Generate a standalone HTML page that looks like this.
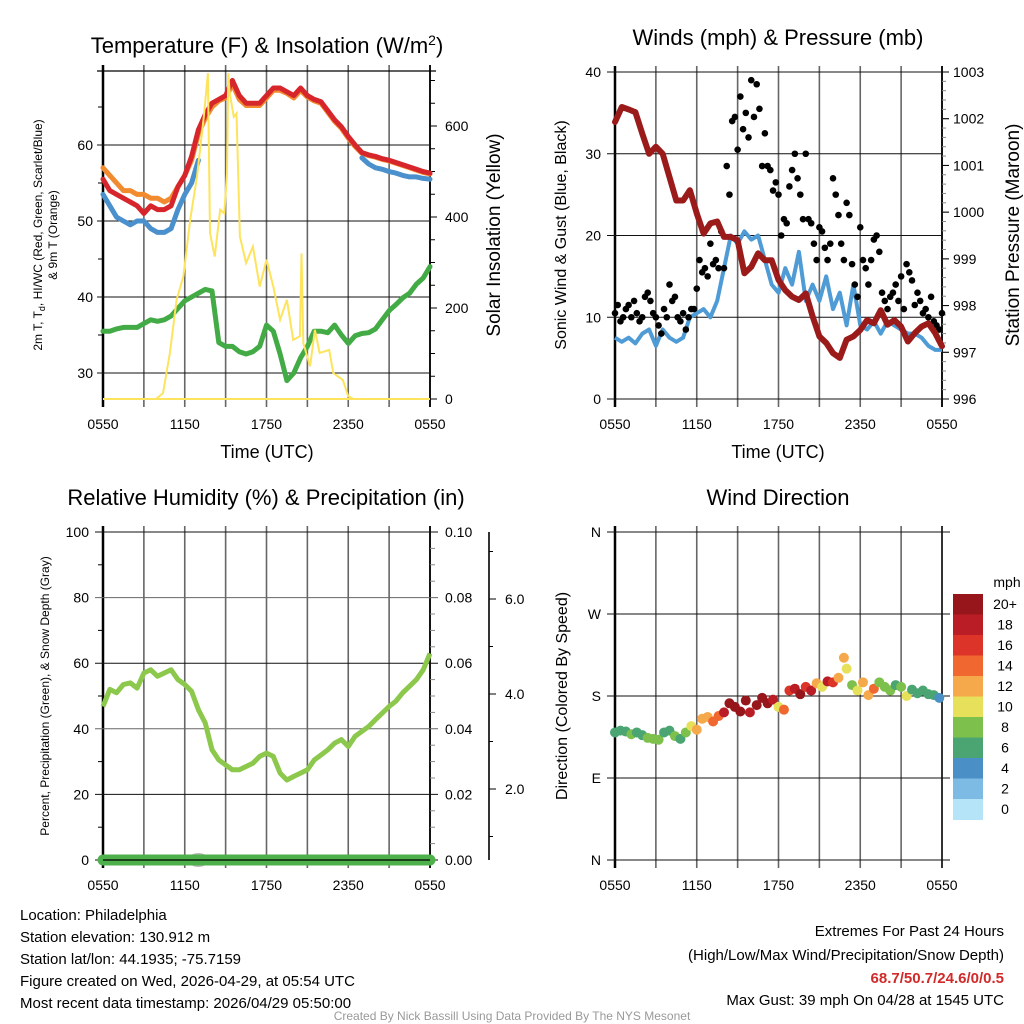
<!DOCTYPE html>
<html><head><meta charset="utf-8"><title>Mesonet Meteogram</title>
<style>
html,body{margin:0;padding:0;background:#fff;}
svg{display:block;font-family:"Liberation Sans",Arial,sans-serif;}
</style></head>
<body>
<svg id="root" width="1024" height="1024" viewBox="0 0 1024 1024" xmlns="http://www.w3.org/2000/svg">
<rect width="1024" height="1024" fill="#fff"/>
<g id="g-temp"></g>
<g id="g-wind"></g>
<g id="g-rh"></g>
<g id="g-dir"></g>

<text x="267" y="53" font-size="22" text-anchor="middle">Temperature (F) &amp; Insolation (W/m<tspan dy="-8" font-size="14">2</tspan><tspan dy="8">)</tspan></text>
<text x="778" y="45" font-size="22" text-anchor="middle">Winds (mph) &amp; Pressure (mb)</text>
<text x="266" y="505" font-size="22" text-anchor="middle">Relative Humidity (%) &amp; Precipitation (in)</text>
<text x="778" y="505" font-size="22" text-anchor="middle">Wind Direction</text>

<text x="267" y="458" font-size="18" text-anchor="middle">Time (UTC)</text>
<text x="778" y="458" font-size="18" text-anchor="middle">Time (UTC)</text>

<text transform="translate(42,235) rotate(-90)" font-size="12" text-anchor="middle">2m T, T<tspan dy="3" font-size="9">d</tspan><tspan dy="-3">, HI/WC (Red, Green, Scarlet/Blue)</tspan></text>
<text transform="translate(57,235) rotate(-90)" font-size="12" text-anchor="middle">&amp; 9m T (Orange)</text>
<text transform="translate(500,235) rotate(-90)" font-size="19" text-anchor="middle">Solar Insolation (Yellow)</text>
<text transform="translate(566,235) rotate(-90)" font-size="16" text-anchor="middle">Sonic Wind &amp; Gust (Blue, Black)</text>
<text transform="translate(1019,235) rotate(-90)" font-size="19" text-anchor="middle">Station Pressure (Maroon)</text>
<text transform="translate(49,696) rotate(-90)" font-size="12" text-anchor="middle">Percent, Precipitation (Green), &amp; Snow Depth (Gray)</text>
<text transform="translate(567,696) rotate(-90)" font-size="16" text-anchor="middle">Direction (Colored By Speed)</text>

<g font-size="15">
<text x="20" y="920">Location: Philadelphia</text>
<text x="20" y="942">Station elevation: 130.912 m</text>
<text x="20" y="964">Station lat/lon: 44.1935; -75.7159</text>
<text x="20" y="986">Figure created on Wed, 2026-04-29, at 05:54 UTC</text>
<text x="20" y="1008">Most recent data timestamp: 2026/04/29 05:50:00</text>
</g>
<g font-size="15" text-anchor="end">
<text x="1004" y="936">Extremes For Past 24 Hours</text>
<text x="1004" y="960">(High/Low/Max Wind/Precipitation/Snow Depth)</text>
<text x="1004" y="983" fill="#d02a2a" font-weight="bold">68.7/50.7/24.6/0/0.5</text>
<text x="1004" y="1005">Max Gust: 39 mph On 04/28 at 1545 UTC</text>
</g>
<text x="512" y="1020" font-size="12" fill="#999" text-anchor="middle">Created By Nick Bassill Using Data Provided By The NYS Mesonet</text>
</svg>
<script>
// ---------- data ----------
const xTickLabels = ["0550","1150","1750","2350","0550"];
const tT = [0,0.5,1,1.5,2,2.5,3,3.5,4,4.5,5,5.5,6,6.5,7,7.5,8,8.5,9,9.5,10,10.5,11,11.5,12,12.5,13,13.5,14,14.5,15,15.5,16,16.5,17,17.5,18,18.5,19,19.5,20,20.5,21,21.5,22,22.5,23,23.5,24];
const tempRed = [55.5,54,53.5,53,52.5,52,51,52,51.5,51.5,52,54.5,56,58.5,62,64,65.5,66,66.5,68.5,66.5,65.5,65.5,65.5,66.5,67.5,67.5,67,66.5,67.5,66.5,66,65.7,64.5,63.3,62.4,61.1,60,59,58.7,58.5,58.2,58,57.7,57.4,57.1,56.8,56.5,56.3];
const tempOrange = [57,56,55,54,54,53.5,53.5,53,53,52.5,53,54.5,56,58,61.5,63.5,65,65.8,66.2,68,66,65.2,65.2,65.2,66.2,67.2,67.2,66.8,66.2,67.2,66.3,65.8,65.5,64.3,63.1,62.2,60.9,59.8,58.9,58.6,58.4,58.1,57.9,57.6,57.3,57,56.7,56.4,56.2];
const tempHIWC = [53.5,52,50.5,50,49.5,50,50,49,48.5,48.5,49,51.5,53.5,55,58,null,null,null,null,null,null,null,null,null,null,null,null,null,null,null,null,null,null,null,null,null,null,null,58.3,57.5,57,56.8,56.5,56.3,56,55.8,55.8,55.6,55.5];
const dewPoint = [35.5,35.5,35.8,36,36,36,36.5,37,36.8,37,37.5,38.5,39.5,40,40.5,41,40.8,34,33.5,33.5,32.8,32.5,32.8,33.5,36.3,35.5,32.5,29,30,32,33.5,35.5,35.5,35.3,36.3,35,33.9,34.9,35.2,35.3,35.8,37,38.2,39,39.9,40.5,41.7,42.5,44];
const solT = [0,3.9,4.4,4.9,5.4,5.9,6.4,6.9,7.4,7.7,7.85,8.2,8.6,8.9,9.1,9.2,9.3,9.6,9.8,10.05,10.5,11,11.5,12,12.5,13,13.5,13.96,14.45,14.57,14.7,15.2,15.55,15.9,16.6,16.9,17.6,18,18.4,24];
const solV = [0,0,13,100,218,270,394,489,620,716,365,313,416,408,496,716,672,620,628,357,299,335,247,306,247,174,218,130,138,320,123,72,152,101,108,57,42,6,0,0];
const tempTicks = [30,40,50,60];
const solarTicks = [0,200,400,600];

const windSpeed = [7.5,7,7.5,6.8,8,8.5,6.5,8.5,7.5,7,7.5,10,10.5,11,10,12,16,20,19,20.5,19.5,20,17,14,13,16,14,18,12,14,12,15,11,13,9,14,9,8.5,9.5,8,9.5,9,8.5,8,8,7.5,6.5,6,6];
const pressure = [1001.93,1002.25,1002.2,1002.14,1001.68,1001.25,1001.4,1001.25,1000.75,1000.25,1000.25,1000.47,999.97,999.54,999.76,999.8,999.47,999.47,999.4,998.69,998.83,999.12,998.97,998.97,998.55,998.33,998.19,998.12,998.26,997.77,997.34,997.2,996.98,996.88,997.27,997.34,997.48,997.69,997.62,997.9,997.59,997.69,997.55,997.23,997.41,997.55,997.62,997.41,997.13];
const gustT = [0,0.2,0.4,0.6,0.8,1,1.2,1.4,1.6,1.8,2,2.2,2.4,2.6,2.8,3,3.2,3.4,3.6,3.8,4,4.2,4.4,4.6,4.8,5,5.2,5.4,5.6,5.8,6,6.2,6.4,6.6,6.8,7,7.2,7.4,7.6,7.8,8,8.2,8.4,8.6,8.8,9,9.2,9.4,9.6,9.8,10,10.2,10.4,10.6,10.8,11,11.2,11.4,11.6,11.8,12,12.2,12.4,12.6,12.8,13,13.2,13.4,13.6,13.8,14,14.2,14.4,14.6,14.8,15,15.2,15.4,15.6,15.8,16,16.2,16.4,16.6,16.8,17,17.2,17.4,17.6,17.8,18,18.2,18.4,18.6,18.8,19,19.2,19.4,19.6,19.8,20,20.2,20.4,20.6,20.8,21,21.2,21.4,21.6,21.8,22,22.2,22.4,22.6,22.8,23,23.2,23.4,23.6,23.8,24];
const gustV = [10.5,11.5,9.5,10,11,11.5,10,12,10.5,9.5,10,12.5,13,12,10.5,10,9,8,11,10,14,12,12.5,10,9.5,10.5,8.5,10,11,11,13.5,17,15.5,16,15,19,16.5,17,16,20.5,16,28.5,25,34,34.5,30.5,37,33,35,32,39,34.5,38.5,35.5,28.5,32.5,28.5,28,25.5,26.5,25,20,22,21.5,26,28,30,27,25,22,30,22,21.5,19,17,21,20.5,18.5,17,19,27,25,22.5,19,17,24,22.5,16.5,14,12.5,21,17,16,14,17,19.5,20,18,13,12,11,12.5,13,14,12,15,11,16.5,15.5,14.5,11.5,13,12,10.5,11,10,12.5,9.5,9,8.5,10.5];
const windTicks = [0,10,20,30,40];
const pressTicks = [996,997,998,999,1000,1001,1002,1003];

const rhValues = [46.8,52,51,53.5,54,52.4,57,58,56,57,58,55,53.5,51.4,45.8,41.8,33.6,30.5,29,27.5,27.5,28.5,29.5,31.6,32.6,31.6,26.5,24.4,25.5,26.5,27.5,30.5,32,33.6,35.6,36.7,34.6,37.7,39.2,40.7,42.8,44.8,46.8,48.4,51,53,55,58,63];
const precipT = [0,24];
const precipV = [0,0];
const rhTicks = [0,20,40,60,80,100];
const precipTicks = ["0.00","0.02","0.04","0.06","0.08","0.10"];
const snowTicks = ["2.0","4.0","6.0"];

const dirT = [0,0.4,0.8,1.2,1.6,2.0,2.4,2.8,3.2,3.6,4.0,4.4,4.8,5.2,5.6,6.0,6.4,6.8,7.2,7.6,8.0,8.4,8.8,9.2,9.6,9.9,10.4,10.8,11.2,11.6,12.0,12.4,12.8,13.2,13.6,14.0,14.4,14.8,15.2,15.6,16.0,16.4,16.8,17.0,17.4,17.8,18.2,18.6,19.0,19.4,19.8,20.2,20.6,21.0,21.4,21.8,22.2,22.6,23.0,23.4,23.8];
const dirV = [140,142,141,138,140,137,134,133,132,140,142,136,133,140,147,143,155,157,152,158,162,172,168,163,175,162,170,178,172,176,168,165,186,188,182,190,186,194,190,196,195,200,222,210,192,186,195,181,188,195,190,186,192,190,180,187,183,186,182,181,178];
const dirS = [7,6,7,8,6,7,8,8,8,6,6,8,7,8,10,12,12,12,14,15,18,20,20,20,20,19,20,20,20,18,10,15,16,18,20,16,18,12,10,18,17,12,12,11,8,10,13,12,14,9,8,8,7,9,10,7,6,7,6,7,5];
const dirTickLabels = ["N","E","S","W","N"];
const speedBinLabels = ["0","2","4","6","8","10","12","14","16","18","20+"];
const speedColors = ["#b5e4f8","#7dbbe5","#4a8fc6","#4aa573","#7dc14c","#e6e05a","#f6a94a","#f0682f","#dc3428","#ba1d25","#96161b"];

// ---------- helpers ----------
const NS = "http://www.w3.org/2000/svg";
function mk(tag, attrs, parent){ const e=document.createElementNS(NS,tag); for(const k in attrs) e.setAttribute(k,attrs[k]); parent.appendChild(e); return e; }
function txt(parent,x,y,s,size,anchor){ const t=mk("text",{x:x,y:y,"font-size":size,"text-anchor":anchor},parent); t.textContent=s; return t; }
function polyPath(ts,vs,xf,yf){ let d="",pen=false; for(let i=0;i<ts.length;i++){ if(vs[i]===null||vs[i]===undefined){pen=false;continue;} d+=(pen?"L":"M")+xf(ts[i]).toFixed(1)+","+yf(vs[i]).toFixed(1); pen=true;} return d; }

function timeAxis(g, L, R, T, B, showLabels){
  const xf = h => L + h*(R-L)/24;
  for(let i=0;i<=8;i++){
    const x = xf(i*3);
    const ln = mk("line",{x1:x,y1:T-6,x2:x,y2:B+8,stroke:(i==0||i==8)?"#000":"#666","stroke-width":(i==0)?2.5:1.6},g);
    
    
    if(i%2==0 && showLabels){
      const t=txt(g,x,B+30,xTickLabels[i/2],14,"middle");
      
      
    }
  }
  return xf;
}

// ---------- panel 1: temperature ----------
(function(){
  const g=document.getElementById("g-temp");
  const L=103,R=430,T=71,B=399;
  const xf=timeAxis(g,L,R,T,B,true);
  const yT = v => 145 + (60-v)*7.6;
  const yS = v => 399 - v*0.455;
  mk("line",{x1:L-6,y1:T,x2:R+6,y2:T,stroke:"#000","stroke-width":1.2},g);
  mk("line",{x1:R,y1:T-6,x2:R,y2:B+8,stroke:"#000","stroke-width":1.6},g);
  for(const v of tempTicks){
    const y=yT(v);
    const ln=mk("line",{x1:L-6,y1:y,x2:R,y2:y,stroke:"#111","stroke-width":1},g);
    
    
    const t=txt(g,L-10,y+5,String(v),14,"end");
    
    
  }
  for(let v=35;v<=65;v+=10) mk("line",{x1:L-5,y1:yT(v),x2:L,y2:yT(v),stroke:"#000"},g);
  for(let v=0;v<=700;v+=50){ mk("line",{x1:R,y1:yS(v),x2:R+(v%200==0?7:5),y2:yS(v),stroke:"#000"},g); }
  for(const v of solarTicks){
    const t=txt(g,R+15,yS(v)+5,String(v),14,"start");
    
    
  }
  const lines=[[dewPoint,"#43ab45","dewpoint-line"],[tempOrange,"#f28a30","temp-9m-line"],[tempHIWC,"#4a90cd","heat-index-line"],[tempRed,"#d7262b","temp-2m-line"]];
  for(const [vals,col,name] of lines){
    const p=mk("path",{d:polyPath(tT,vals,xf,yT),fill:"none",stroke:col,"stroke-width":5,"stroke-linejoin":"round","stroke-linecap":"round"},g);
    
    
  }
  const s=mk("path",{d:polyPath(solT,solV,xf,yS),fill:"none",stroke:"#fde45c","stroke-width":2},g);
  
  
  mk("line",{x1:L,y1:B,x2:R,y2:B,stroke:"#fde45c","stroke-width":2},g);
})();

// ---------- panel 2: winds ----------
(function(){
  const g=document.getElementById("g-wind");
  const L=615,R=942,T=72,B=399;
  const xf=timeAxis(g,L,R,T,B,true);
  const yW = v => B - v*(B-T)/40;
  const yP = v => B - (v-996)*(B-T)/7;
  mk("line",{x1:R,y1:T-6,x2:R,y2:B+8,stroke:"#000","stroke-width":1.6},g);
  for(const v of windTicks){
    const y=yW(v);
    const ln=mk("line",{x1:L-8,y1:y,x2:R,y2:y,stroke:"#111","stroke-width":1},g);
    
    
    const t=txt(g,L-14,y+5,String(v),14,"end");
    
    
  }
  for(let v=996;v<=1003;v+=0.2){ mk("line",{x1:R,y1:yP(v),x2:R+(Math.abs(v-Math.round(v))<0.01?7:4),y2:yP(v),stroke:"#888"},g); }
  for(const v of pressTicks){
    mk("line",{x1:R,y1:yP(v),x2:R+7,y2:yP(v),stroke:"#000"},g);
    const t=txt(g,R+11,yP(v)+5,String(v),14,"start");
    
    
  }
  const w=mk("path",{d:polyPath(tT,windSpeed,xf,yW),fill:"none",stroke:"#4e9bd6","stroke-width":4,"stroke-linejoin":"round"},g);
  
  
  for(let i=0;i<gustT.length;i++){
    const c=mk("circle",{cx:xf(gustT[i]),cy:yW(gustV[i]),r:3.3,fill:"#000"},g);
    
    
  }
  const p=mk("path",{d:polyPath(tT,pressure,xf,yP),fill:"none",stroke:"#9b1b1b","stroke-width":6,"stroke-linejoin":"round","stroke-linecap":"round"},g);
  
  
})();

// ---------- panel 3: humidity ----------
(function(){
  const g=document.getElementById("g-rh");
  const L=103,R=430,T=532,B=860;
  const xf=timeAxis(g,L,R,T,B,true);
  const yR = v => B - v*(B-T)/100;
  mk("line",{x1:R,y1:T-6,x2:R,y2:B+8,stroke:"#000","stroke-width":1.6},g);
  for(let i=0;i<rhTicks.length;i++){
    const v=rhTicks[i], y=yR(v);
    const ln=mk("line",{x1:L-8,y1:y,x2:R+8,y2:y,stroke:(v==80||v==40)?"#666":"#111","stroke-width":1},g);
    
    
    const t=txt(g,L-14,y+5,String(v),14,"end");
    
    
    const t2=txt(g,R+15,y+5,precipTicks[i],14,"start");
    
    
  }
  for(let v=10;v<100;v+=20){ mk("line",{x1:L-5,y1:yR(v),x2:L,y2:yR(v),stroke:"#000"},g); }
  for(let v=5;v<100;v+=5){ if(v%20) mk("line",{x1:R,y1:yR(v),x2:R+5,y2:yR(v),stroke:"#888"},g); }
  // snow depth axis
  const ySn = v => 884 - v*47.5;
  const ax=mk("line",{x1:489,y1:T,x2:489,y2:B,stroke:"#000","stroke-width":1.6},g);
  
  
  for(let v=1;v<=7;v+=1){ const y=ySn(v); if(y>T&&y<B) mk("line",{x1:489,y1:y,x2:493,y2:y,stroke:"#000"},g); }
  for(const s of snowTicks){
    const y=ySn(parseFloat(s));
    mk("line",{x1:489,y1:y,x2:496,y2:y,stroke:"#000"},g);
    const t=txt(g,505,y+5,s,14,"start");
    
    
  }
  const r=mk("path",{d:polyPath(tT,rhValues,xf,yR),fill:"none",stroke:"#8cc84b","stroke-width":5,"stroke-linejoin":"round"},g);
  
  
  const sn=mk("ellipse",{cx:xf(7),cy:B,rx:10,ry:7,fill:"#bbb"},g);
  
  
  const pr=mk("path",{d:polyPath(precipT,precipV,xf,yR),fill:"none",stroke:"#4db04a","stroke-width":11,"stroke-linecap":"round"},g);
  
  
  mk("line",{x1:L,y1:B,x2:R,y2:B,stroke:"#000","stroke-width":1.2},g);
})();

// ---------- panel 4: wind direction ----------
(function(){
  const g=document.getElementById("g-dir");
  const L=615,R=942,T=532,B=860;
  const xf=timeAxis(g,L,R,T,B,true);
  const yD = v => B - v*(B-T)/360;
  for(let i=0;i<dirTickLabels.length;i++){
    const y=yD(i*90);
    const ln=mk("line",{x1:L-8,y1:y,x2:R+8,y2:y,stroke:"#111","stroke-width":1},g);
    
    
    const t=txt(g,L-14,y+5,dirTickLabels[i],14,"end");
    
    
  }
  function colorFor(s){ let b=Math.floor(s/2); if(b>10)b=10; if(b<0)b=0; return speedColors[b]; }
  for(let i=0;i<dirT.length;i++){
    const c=mk("circle",{cx:xf(dirT[i]),cy:yD(dirV[i]),r:5,fill:colorFor(dirS[i])},g);
    
    
  }
  // colorbar
  const cbT=594, bh=20.5;
  for(let i=0;i<speedBinLabels.length;i++){
    const k=speedBinLabels.length-1-i;
    const r=mk("rect",{x:953,y:cbT+i*bh,width:30,height:bh+0.5,fill:speedColors[k]},g);
    
    
    const t=txt(g,1005,cbT+i*bh+15,speedBinLabels[k],14,"middle");
    
    
  }
  const u=txt(g,1007,587,"mph",14,"middle");
  
  
})();
</script>
</body></html>
